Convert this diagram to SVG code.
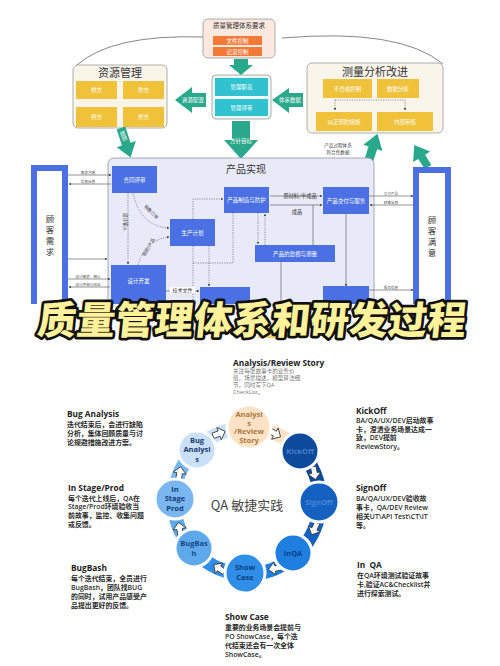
<svg xmlns="http://www.w3.org/2000/svg" width="500" height="666" viewBox="0 0 500 666">
<defs>
<style>
text{font-family:"Noto Sans CJK SC","Noto Sans",sans-serif}
.wt{fill:#fff;font-size:5.5px;text-anchor:middle}
.bx{fill:#4a70e4}
.yl{fill:#efc23a}
.tl{fill:#2aa88c}
.cy{fill:#30c2cf}
.or{fill:#f27a36}
.ln{stroke:#666;stroke-width:.7;fill:none}
.dt{stroke:#666;stroke-width:.7;fill:none;stroke-dasharray:1.2 1.2}
.tiny{font-size:3.6px;fill:#555;text-anchor:middle}
.hd{font-family:"Open Sans","Noto Sans CJK SC",sans-serif;font-weight:700;font-size:8.3px;fill:#222}
.ds{font-family:"Open Sans","Noto Sans CJK SC",sans-serif;font-weight:600;font-size:6.9px;fill:#2a2a2a}
.dg{font-family:"Open Sans","Noto Sans CJK SC",sans-serif;font-size:5.6px;fill:#777}
.ct{font-family:"Open Sans","Noto Sans CJK SC",sans-serif;font-weight:700;font-size:7.5px;text-anchor:middle}
.ring{fill:none;stroke-width:14}
.ca{fill:#fff;stroke:#333;stroke-width:.8}
.cc{stroke:#fff;stroke-width:3}
</style>
<marker id="ar" viewBox="0 0 6 6" refX="5" refY="3" markerWidth="4" markerHeight="4" orient="auto"><path d="M0,0L6,3L0,6z" fill="#444"/></marker>
<clipPath id="ctop"><rect x="0" y="0" width="500" height="304"/></clipPath>
</defs>
<rect width="500" height="666" fill="#fff"/>

<g clip-path="url(#ctop)">
<g id="curves" fill="none" stroke="#777" stroke-width="0.9">
<path d="M77,65 Q112,34 203,37"/>
<path d="M282,38 Q400,28 443,64"/>
</g>

<g id="qms-req">
<rect x="203" y="19" width="72" height="39" rx="5" fill="#fbe8df" stroke="#999" stroke-width="0.8"/>
<text x="239" y="28" font-size="6.5" text-anchor="middle" fill="#333">质量管理体系要求</text>
<rect class="or" x="213" y="36" width="49" height="9"/>
<text class="wt" x="237.5" y="42.5">文件控制</text>
<rect class="or" x="213" y="47" width="49" height="9"/>
<text class="wt" x="237.5" y="53.5">记录控制</text>
</g>

<g id="mgmt">
<rect x="212" y="75" width="59" height="44" rx="4" fill="#eef7f8" stroke="#999" stroke-width="0.8"/>
<rect class="cy" x="215" y="78" width="53" height="18"/>
<text class="wt" x="241.5" y="89">管理职责</text>
<rect class="cy" x="215" y="99" width="53" height="17"/>
<text class="wt" x="241.5" y="109.5">管理评审</text>
</g>

<g id="resource">
<rect x="73" y="65" width="94" height="63" rx="5" fill="#faf5ea" stroke="#999" stroke-width="0.8"/>
<text x="120" y="77" font-size="11" text-anchor="middle" fill="#333">资源管理</text>
<rect class="yl" x="76" y="81" width="41" height="18"/><text class="wt" x="96.5" y="92">供方</text>
<rect class="yl" x="123" y="81" width="41" height="18"/><text class="wt" x="143.5" y="92">供方</text>
<rect class="yl" x="76" y="107" width="41" height="20"/><text class="wt" x="96.5" y="119">供方</text>
<rect class="yl" x="123" y="107" width="41" height="20"/><text class="wt" x="143.5" y="119">供方</text>
</g>

<g id="measure">
<rect x="307" y="63" width="136" height="70" rx="5" fill="#faf5ea" stroke="#999" stroke-width="0.8"/>
<text x="375" y="76" font-size="11" text-anchor="middle" fill="#333">测量分析改进</text>
<rect class="yl" x="323" y="79" width="49" height="19"/><text class="wt" x="347.5" y="90.5">不合格控制</text>
<rect class="yl" x="377" y="79" width="42" height="19"/><text class="wt" x="398" y="90.5">数据分析</text>
<rect class="yl" x="316" y="112" width="56" height="19"/><text class="wt" x="344" y="123.5">纠正预防措施</text>
<rect class="yl" x="377" y="112" width="56" height="19"/><text class="wt" x="405" y="123.5">内部审核</text>
<path class="dt" d="M335,100 H405 M405,100 V110" marker-end="url(#ar)"/>
<path class="dt" d="M335,100 V110" marker-end="url(#ar)"/>
</g>

<text x="338" y="147" font-size="4.6" text-anchor="middle" fill="#444">产品过程体系</text>
<text x="338" y="154" font-size="4.6" text-anchor="middle" fill="#444">符合性数据</text>

<g id="teal-arrows">
<polygon class="tl" points="234,59 248,59 248,65 253,65 241,75 229,65 234,65"/>
<polygon class="tl" points="206,93 192,93 192,87 175,100 192,113 192,107 206,107"/>
<text class="wt" x="193" y="102">资源配置</text>
<polygon class="tl" points="303,93 289,93 289,88 272,100 289,113 289,107 303,107"/>
<text class="wt" x="290" y="102">体系数据</text>
<polygon class="tl" points="232,121 250,121 250,140 258,140 241,159 224,140 232,140"/>
<text class="wt" x="241" y="143" font-size="5">方针目标</text>
<g transform="translate(121,128) rotate(-18)">
<polygon class="tl" points="-4.5,0 4.5,0 4.5,17 10,17 0,31 -10,17 -4.5,17"/>
<text class="wt" x="0" y="8" font-size="4">提</text><text class="wt" x="0" y="13" font-size="4">供</text>
</g>
<g transform="translate(367,166) rotate(18)">
<polygon class="tl" points="-4.5,0 4.5,0 4.5,-19 10,-19 0,-34 -10,-19 -4.5,-19"/>
</g>
<g transform="translate(428,167) rotate(-32)">
<polygon class="tl" points="-4,0 4,0 4,-12 10,-12 0,-26 -10,-12 -4,-12"/>
</g>
</g>

<g id="product-realization">
<rect x="108" y="158" width="266" height="170" rx="6" fill="#e8eaf8" stroke="#9aa0b0" stroke-width="0.9"/>
<text x="246" y="173" font-size="10" text-anchor="middle" fill="#333">产品实现</text>
</g>

<g id="customer-need">
<rect x="34" y="168" width="31" height="150" fill="#fff" stroke="#4a70e4" stroke-width="6"/>
<text x="50" y="222" font-size="8.5" text-anchor="middle" fill="#333">顾</text>
<text x="50" y="233" font-size="8.5" text-anchor="middle" fill="#333">客</text>
<text x="50" y="244" font-size="8.5" text-anchor="middle" fill="#333">需</text>
<text x="50" y="255" font-size="8.5" text-anchor="middle" fill="#333">求</text>
</g>
<g id="customer-sat">
<rect x="416" y="170" width="32" height="150" fill="#fff" stroke="#4a70e4" stroke-width="6"/>
<text x="432" y="223" font-size="8.5" text-anchor="middle" fill="#333">顾</text>
<text x="432" y="234" font-size="8.5" text-anchor="middle" fill="#333">客</text>
<text x="432" y="245" font-size="8.5" text-anchor="middle" fill="#333">满</text>
<text x="432" y="256" font-size="8.5" text-anchor="middle" fill="#333">意</text>
</g>

<g id="connectors">
<path class="ln" d="M68,175 H111" marker-end="url(#ar)"/>
<path class="ln" d="M111,184 H69" marker-end="url(#ar)"/>
<text class="tiny" x="88" y="174">需求沟通</text>
<text class="tiny" x="88" y="183">信息反馈</text>
<path class="ln" d="M68,259 H107" marker-end="url(#ar)"/>
<path class="ln" d="M68,279 H110" marker-end="url(#ar)"/>
<path class="ln" d="M110,287 H69" marker-end="url(#ar)"/>
<text class="tiny" x="88" y="278">设计需求、确认</text>
<text class="tiny" x="88" y="286">设计评审与验证</text>
<path class="dt" d="M128,193 V264" marker-end="url(#ar)"/>
<text font-size="4.5" fill="#444" transform="translate(124,222) rotate(90)" text-anchor="middle">设计输入</text>
<path class="dt" d="M133,193 Q140,226 169,228" marker-end="url(#ar)"/>
<text font-size="4.5" fill="#444" transform="translate(150,213) rotate(45)" text-anchor="middle">销售订单</text>
<path class="dt" d="M138,265 Q145,240 169,237" marker-end="url(#ar)"/>
<text font-size="4.5" fill="#444" transform="translate(150,248) rotate(-60)" text-anchor="middle">图纸/产品</text>
<path class="dt" d="M193,219 V199 H223" marker-end="url(#ar)"/>
<path class="dt" d="M193,246 V304"/>
<path class="dt" d="M209,246 V286" marker-end="url(#ar)"/>
<path class="dt" d="M233,213 V263 H193"/>
<path class="ln" d="M166,291 H199" marker-end="url(#ar)"/>
<rect x="170" y="287" width="25" height="6" fill="#fff"/>
<text x="182.5" y="292" font-size="5" text-anchor="middle" fill="#333">技术文件</text>
<path class="ln" d="M270,196 H322" marker-end="url(#ar)"/>
<text x="300" y="198" font-size="5.2" text-anchor="middle" fill="#333">原材料/半成品</text>
<path class="ln" d="M270,205 H322" marker-end="url(#ar)"/>
<text x="297" y="214" font-size="5.2" text-anchor="middle" fill="#333">成品</text>
<path class="ln" d="M313,245 V205"/>
<path class="dt" d="M258,213 V244" marker-end="url(#ar)"/>
<path class="dt" d="M265,245 V214" marker-end="url(#ar)"/>
<path class="ln" d="M346,214 V286" marker-end="url(#ar)"/>
<path class="ln" d="M281,262 V304"/>
<path class="ln" d="M369,196 H413" marker-end="url(#ar)"/>
<path class="ln" d="M413,205 H370" marker-end="url(#ar)"/>
<text class="tiny" x="391" y="195">交付产品</text>
<text class="tiny" x="391" y="204">顾客反馈</text>
<path class="ln" d="M369,290 H413" marker-end="url(#ar)"/>
<text class="tiny" x="391" y="289">服务信息</text>
</g>

<g id="n-contract"><rect class="bx" x="112" y="166" width="45" height="27"/><text class="wt" x="134.5" y="181.5">合同评审</text></g>
<g id="n-plan"><rect class="bx" x="170" y="219" width="45" height="27"/><text class="wt" x="192.5" y="234.5">生产计划</text></g>
<g id="n-make"><rect class="bx" x="224" y="187" width="45" height="26"/><text class="wt" x="246.5" y="202">产品制造与防护</text></g>
<g id="n-deliver"><rect class="bx" x="323" y="187" width="46" height="27"/><text class="wt" x="346" y="202.5">产品交付与服务</text></g>
<g id="n-monitor"><rect class="bx" x="255" y="245" width="80" height="17"/><text class="wt" x="295" y="255.5">产品的监视与测量</text></g>
<g id="n-design"><rect class="bx" x="111" y="265" width="55" height="45"/><text class="wt" x="138.5" y="283">设计开发</text></g>
<g id="n-low1"><rect class="bx" x="200" y="287" width="50" height="25"/></g>
<g id="n-low2"><rect class="bx" x="323" y="286" width="46" height="25"/></g>
</g>

<rect x="258" y="325" width="45" height="13" fill="#f6d46c"/>
<g id="title">
<text x="251" y="334" font-size="38.5" font-weight="900" text-anchor="middle" fill="#fff29a" stroke="#111" stroke-width="5.5" stroke-linejoin="round" paint-order="stroke" letter-spacing="0.5" transform="skewX(-6) translate(35,0)">质量管理体系和研发过程</text>
</g>

<g id="ring">
<path class="ring" stroke="#fde2c6" d="M247,428 A73,73 0 0 1 298.6,449.4"/>
<path class="ring" stroke="#0d4a9c" d="M298.6,449.4 A73,73 0 0 1 320,501"/>
<path class="ring" stroke="#1561c2" d="M320,501 A73,73 0 0 1 298.6,552.6"/>
<path class="ring" stroke="#1e7fe0" d="M298.6,552.6 A73,73 0 0 1 247,574"/>
<path class="ring" stroke="#2f8ee8" d="M247,574 A73,73 0 0 1 195.4,552.6"/>
<path class="ring" stroke="#5ea9ec" d="M195.4,552.6 A73,73 0 0 1 174,501"/>
<path class="ring" stroke="#7ab6ef" d="M174,501 A73,73 0 0 1 195.4,449.4"/>
<path class="ring" stroke="#c9e0f8" d="M195.4,449.4 A73,73 0 0 1 247,428"/>
<g>
<polygon class="ca" transform="translate(274.9,433.6) rotate(30)" points="-6.5,-2.8 0,-2.8 0,-6.5 6.5,0 0,6.5 0,2.8 -6.5,2.8"/>
<polygon class="ca" transform="translate(314.4,473.1) rotate(80)" points="-6.5,-2.8 0,-2.8 0,-6.5 6.5,0 0,6.5 0,2.8 -6.5,2.8"/>
<polygon class="ca" transform="translate(314.4,528.9) rotate(115)" points="-6.5,-2.8 0,-2.8 0,-6.5 6.5,0 0,6.5 0,2.8 -6.5,2.8"/>
<polygon class="ca" transform="translate(274.9,568.4) rotate(170)" points="-6.5,-2.8 0,-2.8 0,-6.5 6.5,0 0,6.5 0,2.8 -6.5,2.8"/>
<polygon class="ca" transform="translate(219.1,568.4) rotate(215)" points="-6.5,-2.8 0,-2.8 0,-6.5 6.5,0 0,6.5 0,2.8 -6.5,2.8"/>
<polygon class="ca" transform="translate(179.6,528.9) rotate(260)" points="-6.5,-2.8 0,-2.8 0,-6.5 6.5,0 0,6.5 0,2.8 -6.5,2.8"/>
<polygon class="ca" transform="translate(179.6,473.1) rotate(280)" points="-6.5,-2.8 0,-2.8 0,-6.5 6.5,0 0,6.5 0,2.8 -6.5,2.8"/>
<polygon class="ca" transform="translate(219.1,433.6) rotate(340)" points="-6.5,-2.8 0,-2.8 0,-6.5 6.5,0 0,6.5 0,2.8 -6.5,2.8"/>
</g>
</g>

<g id="c-analysis"><circle class="cc" cx="249" cy="427" r="22" fill="#fde2c6"/>
<text class="ct" fill="#a87842" font-size="7"><tspan x="249" y="417">Analysi</tspan><tspan x="249" y="425.5">s</tspan><tspan x="249" y="434">/Review</tspan><tspan x="249" y="442.5">Story</tspan></text></g>
<g id="c-kickoff"><circle class="cc" cx="300" cy="451" r="19" fill="#0d4a9c"/><text class="ct" fill="#4a80cc" x="300" y="454">KickOff</text></g>
<g id="c-signoff"><circle class="cc" cx="319" cy="502" r="20" fill="#1561c2"/><text class="ct" fill="#4a86d8" x="319" y="505">SignOff</text></g>
<g id="c-inqa"><circle class="cc" cx="293" cy="553" r="19" fill="#1e7fe0"/><text class="ct" fill="#0d3f88" x="293" y="556">InQA</text></g>
<g id="c-showcase"><circle class="cc" cx="245" cy="573" r="20" fill="#2f8ee8"/><text class="ct" fill="#0c3d7a"><tspan x="245" y="570">Show</tspan><tspan x="245" y="579.5">Case</tspan></text></g>
<g id="c-bugbash"><circle class="cc" cx="194" cy="548" r="19" fill="#5ea9ec"/><text class="ct" fill="#17487f"><tspan x="194" y="546">BugBas</tspan><tspan x="194" y="555.5">h</tspan></text></g>
<g id="c-instage"><circle class="cc" cx="175" cy="499" r="20" fill="#7ab6ef"/><text class="ct" fill="#123c78"><tspan x="175" y="491.5">In</tspan><tspan x="175" y="501">Stage</tspan><tspan x="175" y="510.5">Prod</tspan></text></g>
<g id="c-buganalysis"><circle class="cc" cx="197" cy="450" r="19" fill="#c9e0f8"/><text class="ct" fill="#1b3d6e"><tspan x="197" y="442.5">Bug</tspan><tspan x="197" y="452">Analysi</tspan><tspan x="197" y="461.5">s</tspan></text></g>

<text x="247" y="510" font-size="13" text-anchor="middle" fill="#444" font-family="Open Sans, Noto Sans CJK SC, sans-serif">QA 敏捷实践</text>

<g id="desc">
<text class="hd" x="233" y="366">Analysis/Review Story</text>
<text class="dg"><tspan x="233" y="373">关注每张故事卡的业务价</tspan><tspan x="233" y="380">值，场景描述，模型算法细</tspan><tspan x="233" y="387">节，同时写下QA</tspan><tspan x="233" y="394">CheckList。</tspan></text>

<text class="hd" x="67" y="417">Bug Analysis</text>
<text class="ds"><tspan x="67" y="427">迭代结束后，会进行缺陷</tspan><tspan x="67" y="436">分析，集体回顾质量与讨</tspan><tspan x="67" y="445">论规避措施改进方案。</tspan></text>

<text class="hd" x="68" y="491">In Stage/Prod</text>
<text class="ds"><tspan x="68" y="501">每个迭代上线后，QA在</tspan><tspan x="68" y="509">Stage/Prod环境验收当</tspan><tspan x="68" y="518">前故事，监控、收集问题</tspan><tspan x="68" y="527">或反馈。</tspan></text>

<text class="hd" x="71" y="571">BugBash</text>
<text class="ds"><tspan x="71" y="581">每个迭代结束，全员进行</tspan><tspan x="71" y="590">BugBash，团队找BUG</tspan><tspan x="71" y="599">的同时，试用产品感受产</tspan><tspan x="71" y="608">品提出更好的反馈。</tspan></text>

<text class="hd" x="225" y="620">Show Case</text>
<text class="ds"><tspan x="225" y="630">重要的业务场景会提前与</tspan><tspan x="225" y="639">PO ShowCase，每个迭</tspan><tspan x="225" y="648">代结束还会有一次全体</tspan><tspan x="225" y="657">ShowCase。</tspan></text>

<text class="hd" x="356" y="414">KickOff</text>
<text class="ds"><tspan x="356" y="423">BA/QA/UX/DEV启动故事</tspan><tspan x="356" y="432">卡，澄清业务场景达成一</tspan><tspan x="356" y="440">致，DEV提前</tspan><tspan x="356" y="449">ReviewStory。</tspan></text>

<text class="hd" x="356" y="491">SignOff</text>
<text class="ds"><tspan x="356" y="501">BA/QA/UX/DEV验收故</tspan><tspan x="356" y="510">事卡，QA/DEV Review</tspan><tspan x="356" y="519">相关UT\API Test\CT\IT</tspan><tspan x="356" y="528">等。</tspan></text>

<text class="hd" x="357" y="568" xml:space="preserve">In  QA</text>
<text class="ds"><tspan x="357" y="578">在QA环境测试验证故事</tspan><tspan x="357" y="587">卡,验证AC&amp;Checklist并</tspan><tspan x="357" y="596">进行探索测试。</tspan></text>
</g>
</svg>
